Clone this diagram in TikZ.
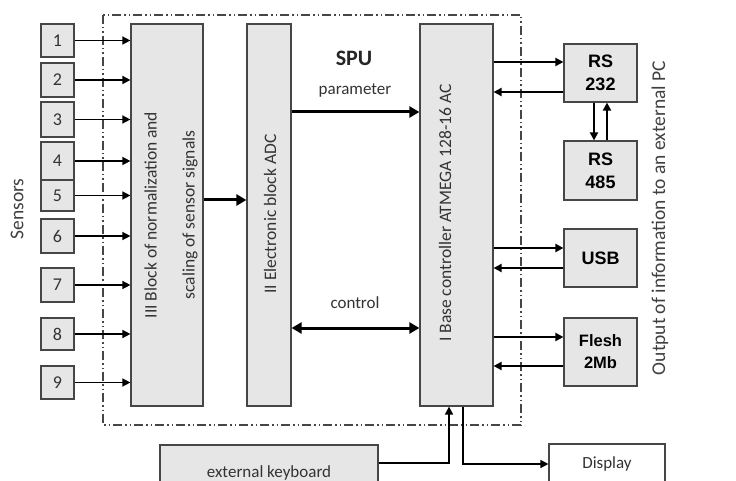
\documentclass[tikz,border=0pt]{standalone}
\usepackage{fontspec}
\setmainfont{Carlito}
\newfontfamily\arialfont{Liberation Sans}
\usetikzlibrary{arrows.meta}

\definecolor{blockgray}{RGB}{230,230,230}
\definecolor{linegray}{RGB}{70,70,70}

\tikzset{
  panel/.style={draw=linegray, line width=1.2pt, fill=blockgray, inner sep=0pt},
  sensor/.style={panel, minimum width=33pt, text=black!80, font=\fontsize{18}{20}\selectfont},
  blockbox/.style={panel, minimum height=382pt},
  blocktext/.style={rotate=90, align=center, text=black!80, font=\fontsize{17.5}{38}\selectfont},
  port/.style={panel, minimum width=73pt, minimum height=58pt, align=center, font=\arialfont\bfseries\fontsize{18}{23}\selectfont},
  plain/.style={text=black!80, font=\fontsize{17}{20}\selectfont},
  sidetext/.style={rotate=90, text=black!75, font=\fontsize{19.5}{22}\selectfont},
  spuframe/.style={draw=linegray, line width=1.3pt, dash pattern=on 9pt off 3pt on 1.5pt off 3pt on 1.5pt off 3pt},
  sig/.style={->, line width=1.5pt},
  link/.style={-{Triangle[length=8pt, width=8pt]}, line width=2pt},
  bus/.style={-{Triangle[length=10pt, width=11pt]}, line width=3pt},
}

\begin{document}
\begin{tikzpicture}[x=1pt, y=-1pt, >={Triangle[length=8pt, width=8pt]}]
\useasboundingbox (0,0) rectangle (736,481);

% SPU frame
\draw[spuframe] (103,15) rectangle (521,425);
\node[text=black!85, font=\bfseries\fontsize{22}{26}\selectfont] (spu) at (354,58) {SPU};

% sensors
\node[sensor, minimum height=33pt] (s1) at (57.5,40.5) {1};
\node[sensor, minimum height=34pt] (s2) at (57.5,80) {2};
\node[sensor, minimum height=35pt] (s3) at (57.5,119.5) {3};
\node[sensor, minimum height=38pt] (s4) at (57.5,161) {4};
\node[sensor, minimum height=31pt] (s5) at (57.5,195.5) {5};
\node[sensor, minimum height=34pt] (s6) at (57.5,236) {6};
\node[sensor, minimum height=34pt] (s7) at (57.5,285) {7};
\node[sensor, minimum height=32pt] (s8) at (57.5,334) {8};
\node[sensor, minimum height=33pt] (s9) at (57.5,382.5) {9};
\node[sidetext] (sensors) at (17,209) {Sensors};

% blocks
\node[blockbox, minimum width=72pt] (norm) at (167,215) {};
\node[blocktext] (normtext) at (171,215) {III Block of normalization and\\ scaling of sensor signals};
\node[blockbox, minimum width=44pt] (adc) at (269,215) {};
\node[blocktext] (adctext) at (270,214) {II Electronic block ADC};
\node[blockbox, minimum width=73pt] (ctrl) at (456.5,215) {};
\node[blocktext] (ctrltext) at (445,213) {I Base controller ATMEGA 128-16 AC};

% sensor inputs
\draw[sig] (s1.east) -- (s1.east -| norm.west);
\draw[sig] (s2.east) -- (s2.east -| norm.west);
\draw[sig] (s3.east) -- (s3.east -| norm.west);
\draw[sig] (s4.east) -- (s4.east -| norm.west);
\draw[sig] (s5.east) -- (s5.east -| norm.west);
\draw[sig] (s6.east) -- (s6.east -| norm.west);
\draw[sig] (s7.east) -- (s7.east -| norm.west);
\draw[sig] (s8.east) -- (s8.east -| norm.west);
\draw[sig] (s9.east) -- (s9.east -| norm.west);

\draw[bus] ([yshift=15]norm.east) -- ([yshift=15]adc.west);
\draw[bus] ([yshift=103]adc.east) -- ([yshift=103]ctrl.west);
\node[plain] (param) at (355,90) {parameter};
\draw[bus, {Triangle[length=10pt, width=11pt]}-{Triangle[length=10pt, width=11pt]}] ([yshift=-113]adc.east) -- ([yshift=-113]ctrl.west);
\node[plain] (control) at (355,303) {control};

% interfaces
\node[port] (rs232) at (600.5,73) {RS\\232};
\node[port, minimum height=59pt] (rs485) at (600.5,170.5) {RS\\485};
\node[port] (usb) at (600.5,258) {USB};
\node[port, minimum height=68pt, font=\arialfont\bfseries\fontsize{16.5}{22}\selectfont] (flash) at (600.5,352) {Flesh\\2Mb};

\draw[link] ([yshift=11]rs232.west -| ctrl.east) -- ([yshift=11]rs232.west);
\draw[link] ([yshift=-19]rs232.west) -- ([yshift=-19]rs232.west -| ctrl.east);
\draw[link] ([xshift=-6.5]rs232.south) -- ([xshift=-6.5]rs485.north);
\draw[link] ([xshift=6.5]rs485.north) -- ([xshift=6.5]rs232.south);
\draw[link] ([yshift=10]usb.west -| ctrl.east) -- ([yshift=10]usb.west);
\draw[link] ([yshift=-10]usb.west) -- ([yshift=-10]usb.west -| ctrl.east);
\draw[link] ([yshift=15]flash.west -| ctrl.east) -- ([yshift=15]flash.west);
\draw[link] ([yshift=-14]flash.west) -- ([yshift=-14]flash.west -| ctrl.east);

\node[sidetext] (output) at (660,218) {Output of information to an external PC};

% keyboard and display
\node[panel, minimum width=218pt, minimum height=56pt, plain] (kbd) at (269,473) {external keyboard};
\node[panel, fill=white, minimum width=116pt, minimum height=40pt, plain] (disp) at (607,464) {Display};

\draw[sig] ([yshift=10]kbd.east) -| ([xshift=-7.5]ctrl.south);
\draw[sig] ([xshift=6.5]ctrl.south) |- (disp.west);

\end{tikzpicture}
\end{document}
